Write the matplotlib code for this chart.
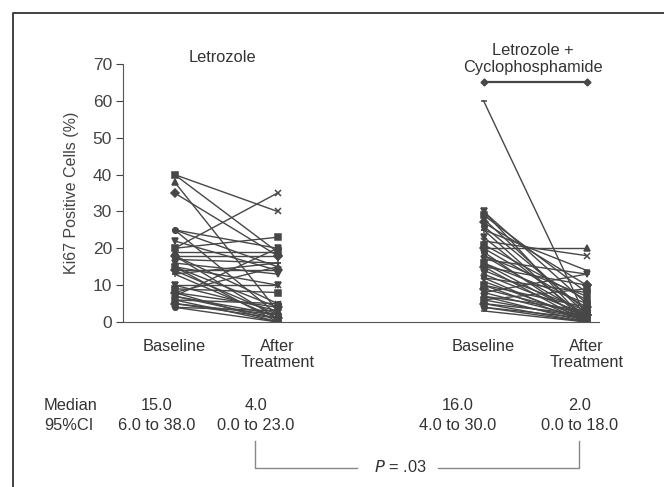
import matplotlib
matplotlib.use("Agg")
import matplotlib.pyplot as plt
from matplotlib.lines import Line2D

plt.rcParams['font.family'] = ['Liberation Sans', 'DejaVu Sans']

# x positions of the four time points (two per arm)
positions = [1, 2, 4, 5]
tick_labels = ['Baseline', 'After\nTreatment', 'Baseline', 'After\nTreatment']
group_titles = ['Letrozole', 'Letrozole +\nCyclophosphamide']

# Letrozole arm: baseline / after treatment (%)
let_base = [40, 40, 38, 35, 25, 25, 25, 22, 20, 20, 19, 18, 18, 18, 17, 16, 15, 15, 15,
            14, 14, 13, 13, 10, 10, 9, 8, 8, 8, 7, 7, 7, 6, 6, 5, 5, 4, 4]
let_after = [30, 19, 3, 18, 20, 15, 2, 14, 35, 23, 19, 18, 5, 1, 16, 13, 10, 4, 0,
             14, 2, 16, 1, 10, 3, 8, 15, 4, 0, 2, 1, 20, 5, 0, 2, 1, 0, 3]

# Letrozole + cyclophosphamide arm
cyc_base = [60, 30, 30, 29, 28, 27, 26, 25, 25, 23, 22, 21, 20, 20, 19, 18, 18, 17, 16, 16,
            15, 15, 14, 13, 12, 12, 11, 10, 10, 9, 8, 8, 7, 7, 6, 6, 5, 5, 4, 4, 3]
cyc_after = [1, 5, 0, 8, 2, 10, 3, 0, 14, 1, 18, 6, 20, 4, 0, 7, 2, 13, 1, 5,
             0, 10, 3, 2, 0, 8, 1, 4, 0, 2, 1, 13, 0, 3, 1, 9, 0, 2, 0, 1, 0]

median_row = ['15.0', '4.0', '16.0', '2.0']
ci_row = ['6.0 to 38.0', '0.0 to 23.0', '4.0 to 30.0', '0.0 to 18.0']
p_text = '$P$ = .03'

W, H = 664, 487
fig = plt.figure(figsize=(W / 100, H / 100), dpi=100)
ax = fig.add_axes([123 / W, 1 - 322 / H, (599 - 123) / W, (322 - 64) / H])

col = '#474747'
markers = ['x', 's', '^', 'D', 'o', '+', '_', 'v']

def draw_arm(xb, xa, base, after, start):
    for i, (b, a) in enumerate(zip(base, after)):
        ax.plot([xb, xa], [b, a], color=col, lw=1.0,
                marker=markers[(i + start) % len(markers)], ms=4, mew=1.1,
                mfc=col, mec=col)

draw_arm(positions[0], positions[1], let_base, let_after, 0)
draw_arm(positions[2], positions[3], cyc_base, cyc_after, 6)

# significance bar over the combination arm
ax.plot([positions[2], positions[3]], [65, 65], color=col, lw=1.6,
        marker='D', ms=3.5)

ax.set_xlim(0.5, 5.12)
ax.set_ylim(0, 70)
ax.set_yticks(range(0, 71, 10))
ax.set_xticks([])
for s in ['top', 'right']:
    ax.spines[s].set_visible(False)
ax.spines['left'].set_color('#555555')
ax.spines['bottom'].set_color('#555555')
ax.tick_params(axis='y', labelsize=12.5, colors='#444444', length=5, pad=3)
ax.set_ylabel('Ki67 Positive Cells (%)', fontsize=11.5, color='#444444', labelpad=10)

txt = dict(color='#333333', fontsize=11.8)

# category labels under axis
for p, lab in zip(positions, tick_labels):
    ax.text(p, -4.5, lab, ha='center', va='top', linespacing=1.1,
            transform=ax.transData, clip_on=False, **txt)

# group titles
fig.text(222 / W, 1 - 57 / H, group_titles[0], ha='center', va='center', **txt)
fig.text(533 / W, 1 - 59 / H, group_titles[1], ha='center', va='center',
         linespacing=1.15, **txt)

# summary table
fig.text(44 / W, 1 - 406 / H, 'Median', ha='left', va='center', **txt)
fig.text(44 / W, 1 - 425 / H, '95%CI', ha='left', va='center', **txt)
for xc, m, c in zip([157, 256, 458, 580], median_row, ci_row):
    fig.text(xc / W, 1 - 406 / H, m, ha='center', va='center', **txt)
    fig.text(xc / W, 1 - 425 / H, c, ha='center', va='center', **txt)

# P-value bracket
bc = '#888888'
def fl(xs, ys, **kw):
    fig.add_artist(Line2D([x / W for x in xs], [1 - y / H for y in ys],
                          transform=fig.transFigure, **kw))

fl([255, 255, 357], [441, 468, 468], color=bc, lw=1.0)
fl([438, 579, 579], [468, 468, 441], color=bc, lw=1.0)
fig.text(400 / W, 1 - 467 / H, p_text, ha='center', va='center', **txt)

# outer frame (left and top edges visible)
fl([12.5, 12.5, W + 5], [H + 5, 12.5, 12.5], color='#333333', lw=1.3)

fig.savefig('out.png', dpi=100)
